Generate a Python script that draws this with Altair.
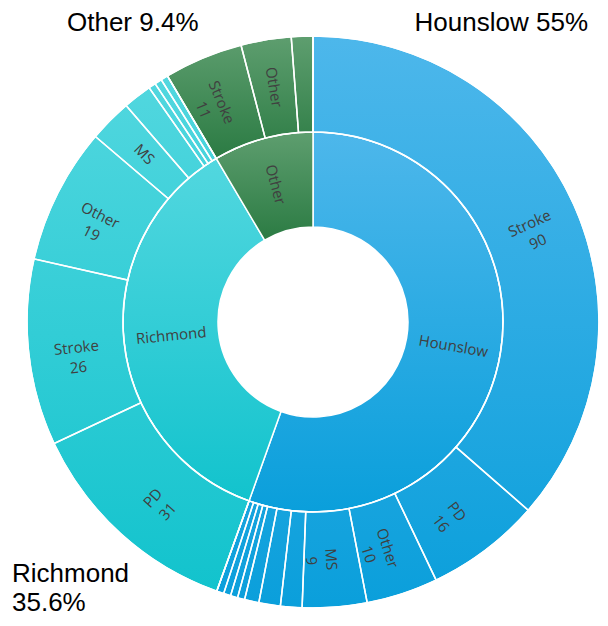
import math
import numpy as np
import pandas as pd
import altair as alt

# ---- data ----
groups = ["Hounslow", "Richmond", "Other"]
group_share = ["55%", "35.6%", "9.4%"]

hounslow_names = ["Stroke", "PD", "Other", "MS", "", "", "", "", "", "", ""]
hounslow_values = [90, 16, 10, 9, 3, 3, 2, 1, 1, 1, 1]
richmond_names = ["PD", "Stroke", "Other", "MS", "", "", "", ""]
richmond_values = [31, 26, 19, 6, 4, 1, 1, 1]
other_names = ["Stroke", "Other", ""]
other_values = [11, 7, 3]

light_colors = ["#4DB7EB", "#52D7DF", "#5E9E6F"]
dark_colors = ["#0A9FDB", "#12C3CD", "#2B7B43"]

# ---- build tables ----
children = {
    "Hounslow": (hounslow_names, hounslow_values),
    "Richmond": (richmond_names, richmond_values),
    "Other": (other_names, other_values),
}
rows = []
cum = 0
for g in groups:
    names, vals = children[g]
    for n, v in zip(names, vals):
        rows.append(dict(group=g, name=n, value=v, start=cum, end=cum + v))
        cum += v
outer = pd.DataFrame(rows)
total = cum


def make_label(n, v):
    if not n or v < 6:
        return ""
    if v < 9:
        return n
    return f"{n}\n{v}"


outer["label"] = [make_label(n, v) for n, v in zip(outer.name, outer.value)]
inner = outer.groupby("group", sort=False).agg(start=("start", "min"), end=("end", "max")).reset_index()
inner["label"] = inner["group"]

for df in (outer, inner):
    df["mid"] = (df.start + df.end) / 2
    deg = df["mid"] / total * 360
    df["ang"] = np.where(deg < 180, deg - 90, deg - 270) % 360

CX, CY = 305, 314
R0, R1, R2 = 95, 190, 286
theta_scale = alt.Scale(domain=[0, total], range=[0, 2 * math.pi])


def enc(field_start="start", field_end="end"):
    return dict(
        theta=alt.Theta(f"{field_start}:Q", scale=theta_scale, stack=None),
        theta2=f"{field_end}:Q",
        x=alt.value(CX),
        y=alt.value(CY),
    )


layers = []
# gradient fills: one gradient per group and ring (top light -> bottom dark)
for g, lc, dc in zip(groups, light_colors, dark_colors):
    grad = alt.Gradient(
        gradient="linear",
        stops=[alt.GradientStop(color=lc, offset=0), alt.GradientStop(color=dc, offset=1)],
        x1=0, x2=0, y1=0, y2=1,
    )
    for ri, ro in ((R0, R1), (R1, R2)):
        layers.append(
            alt.Chart(inner[inner.group == g])
            .mark_arc(innerRadius=ri, outerRadius=ro, fill=grad, stroke="white", strokeWidth=1.5)
            .encode(**enc())
        )

# child segment borders in the outer ring
layers.append(
    alt.Chart(outer)
    .mark_arc(innerRadius=R1, outerRadius=R2, fill="transparent", stroke="white", strokeWidth=1.5)
    .encode(**enc())
)

for df, r in ((inner, (R0 + R1) / 2), (outer, (R1 + R2) / 2)):
    layers.append(
        alt.Chart(df[df.label != ""])
        .mark_text(font="Open Sans", fontSize=15, color="#404040", lineBreak="\n", lineHeight=20,
                   align="center", baseline="middle")
        .encode(
            theta=alt.Theta("mid:Q", scale=theta_scale, stack=None),
            radius=alt.value(r),
            text="label:N",
            angle=alt.Angle("ang:Q", scale=None),
            x=alt.value(CX),
            y=alt.value(CY),
        )
    )

# corner annotations
corner = pd.DataFrame({"group": groups, "share": group_share})
corner["line1"] = [f"{g} {s}" if g != "Richmond" else g for g, s in zip(groups, group_share)]
corner["line2"] = ["" if g != "Richmond" else s for g, s in zip(groups, group_share)]
corner_pos = {"Hounslow": (580, 15, "right"), "Richmond": (4, 566, "left"), "Other": (59, 15, "left")}
for g in groups:
    px, py, al = corner_pos[g]
    sub = corner[corner.group == g]
    layers.append(
        alt.Chart(sub)
        .mark_text(font="Liberation Sans", fontSize=26, color="#000000", align=al, baseline="middle")
        .encode(text="line1:N", x=alt.value(px), y=alt.value(py))
    )
    if g == "Richmond":
        layers.append(
            alt.Chart(sub)
            .mark_text(font="Liberation Sans", fontSize=26, color="#000000", align=al, baseline="middle")
            .encode(text="line2:N", x=alt.value(px), y=alt.value(py + 29))
        )

chart = (
    alt.layer(*layers)
    .properties(width=592, height=610, autosize=alt.AutoSizeParams(type="none"), padding=0)
    .configure_view(stroke=None)
)
chart.save("out.html", embed_options={"renderer": "svg", "actions": False})
